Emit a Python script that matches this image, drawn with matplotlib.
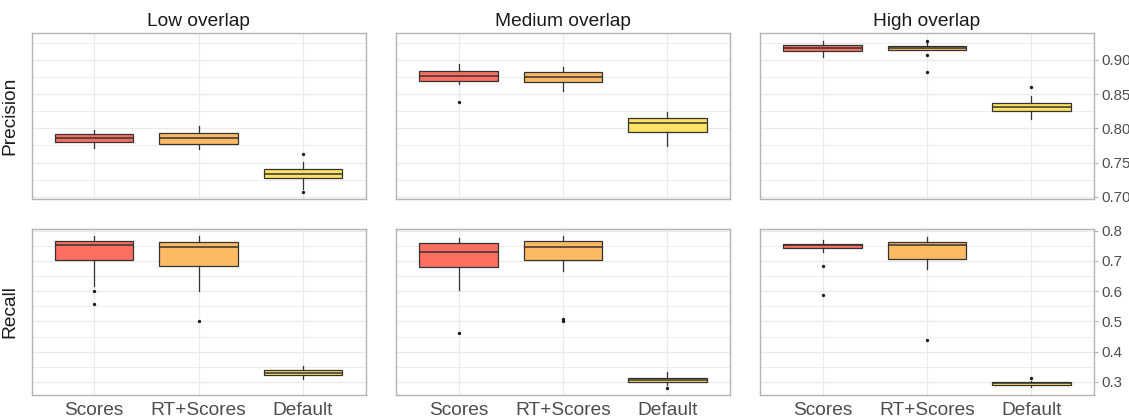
import matplotlib
matplotlib.use("Agg")
import matplotlib.pyplot as plt
from matplotlib.ticker import MultipleLocator, FormatStrFormatter

plt.rcParams['font.family'] = ['Liberation Sans', 'DejaVu Sans']

methods = ["Scores", "RT+Scores", "Default"]
overlaps = ["Low overlap", "Medium overlap", "High overlap"]
colors = ["#FF6F61", "#FDBA63", "#FFE163"]

# Precision: rows = overlap (low, medium, high), cols = method
prec_q1 = [[0.7797, 0.7772, 0.7275], [0.8690, 0.8681, 0.7951], [0.9130, 0.9145, 0.8255]]
prec_med = [[0.7859, 0.7859, 0.7338], [0.8762, 0.8754, 0.8072], [0.9171, 0.9174, 0.8313]]
prec_q3 = [[0.7922, 0.7936, 0.7410], [0.8841, 0.8826, 0.8154], [0.9217, 0.9197, 0.8371]]
prec_lo = [[0.7710, 0.7704, 0.7116], [0.8646, 0.8551, 0.7748], [0.9043, 0.9135, 0.8135]]
prec_hi = [[0.7980, 0.8029, 0.7512], [0.8932, 0.8899, 0.8241], [0.9280, 0.9240, 0.8468]]
prec_out = [[[], [], [0.7623, 0.7072]],
            [[0.8391], [], []],
            [[], [0.9280, 0.9067, 0.8816], [0.8599]]]

# Recall
rec_q1 = [[0.7038, 0.6842, 0.3231], [0.6809, 0.7025, 0.3002], [0.7432, 0.7058, 0.2890]]
rec_med = [[0.7518, 0.7465, 0.3297], [0.7288, 0.7465, 0.3067], [0.7508, 0.7531, 0.2956]]
rec_q3 = [[0.7662, 0.7629, 0.3382], [0.7596, 0.7662, 0.3120], [0.7563, 0.7606, 0.3000]]
rec_lo = [[0.6162, 0.6008, 0.3087], [0.6031, 0.6664, 0.2913], [0.7288, 0.6730, 0.2840]]
rec_hi = [[0.7803, 0.7803, 0.3537], [0.7760, 0.7803, 0.3317], [0.7682, 0.7770, 0.3020]]
rec_out = [[[0.5988, 0.5571], [0.5023], []],
           [[0.4620], [0.5089, 0.5013], [0.2815]],
           [[0.6828, 0.5867], [0.4380], [0.3133]]]

metrics = [
    ("Precision", prec_q1, prec_med, prec_q3, prec_lo, prec_hi, prec_out,
     (0.697, 0.939), [0.70, 0.75, 0.80, 0.85, 0.90], "%.2f"),
    ("Recall", rec_q1, rec_med, rec_q3, rec_lo, rec_hi, rec_out,
     (0.257, 0.805), [0.3, 0.4, 0.5, 0.6, 0.7, 0.8], "%.1f"),
]

W, H = 1129, 419
fig = plt.figure(figsize=(W / 100, H / 100), dpi=100)

lefts = [31.5, 396, 760]
pw = 334
tops = [33, 229]
ph = 166

border = "#B3B3B3"
grid = "#EAEAEA"

for r, (name, q1, med, q3, lo, hi, out, ylim, yticks, fmt) in enumerate(metrics):
    for c in range(3):
        ax = fig.add_axes([lefts[c] / W, 1 - (tops[r] + ph) / H, pw / W, ph / H])
        stats = []
        for m in range(3):
            stats.append(dict(med=med[c][m], q1=q1[c][m], q3=q3[c][m],
                              whislo=lo[c][m], whishi=hi[c][m],
                              fliers=out[c][m], label=methods[m]))
        bp = ax.bxp(stats, positions=[1, 2, 3], widths=0.75, patch_artist=True,
                    showcaps=False,
                    boxprops=dict(edgecolor="#333333", linewidth=0.9),
                    medianprops=dict(color="#333333", linewidth=1.1),
                    whiskerprops=dict(color="#333333", linewidth=0.9),
                    flierprops=dict(marker="o", markersize=2.4,
                                    markerfacecolor="#1A1A1A",
                                    markeredgewidth=0))
        for patch, col in zip(bp["boxes"], colors):
            patch.set_facecolor(col)
        for artist in bp["boxes"] + bp["medians"] + bp["whiskers"] + bp["fliers"]:
            artist.set_zorder(3)
        ax.set_xlim(0.4, 3.6)
        ax.set_ylim(*ylim)
        ax.set_yticks(yticks)
        step = yticks[1] - yticks[0]
        ax.yaxis.set_minor_locator(MultipleLocator(step / 2))
        ax.yaxis.set_major_formatter(FormatStrFormatter(fmt))
        ax.grid(True, which="major", color=grid, linewidth=0.9, zorder=0)
        ax.grid(True, which="minor", axis="y", color=grid, linewidth=0.6, zorder=0)
        ax.set_axisbelow(True)
        for s in ax.spines.values():
            s.set_color(border)
            s.set_linewidth(1.0)
        ax.tick_params(axis="y", which="minor", length=0)
        ax.tick_params(axis="x", length=0, pad=5, labelsize=13.8, labelcolor="#4D4D4D")
        if c == 2:
            ax.yaxis.tick_right()
            ax.tick_params(axis="y", which="major", length=3, color=border,
                           pad=2, labelsize=10.8, labelcolor="#4D4D4D",
                           left=False, right=True)
        else:
            ax.tick_params(axis="y", which="major", length=0,
                           labelleft=False, labelright=False)
        if r == 0:
            ax.set_xticklabels([])
            ax.set_title(overlaps[c], fontsize=13.8, color="#1A1A1A", pad=5)
        else:
            ax.set_xticklabels(methods)
        if c == 0:
            ax.set_ylabel(name, fontsize=13.8, color="#1A1A1A", labelpad=6)

fig.savefig("out.png", dpi=100)
